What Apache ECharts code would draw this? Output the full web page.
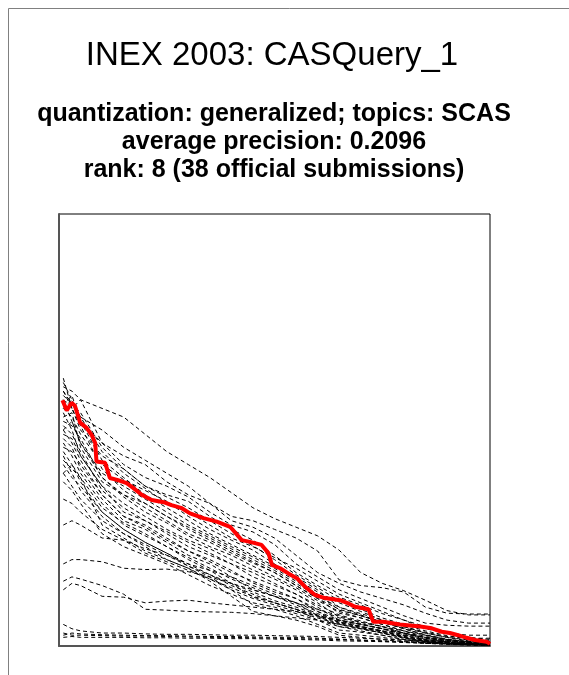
<!DOCTYPE html>
<html>
<head>
<meta charset="utf-8">
<title>INEX 2003: CASQuery_1</title>
<script src="https://cdn.jsdelivr.net/npm/echarts@6/dist/echarts.min.js"></script>
<style>
  html, body { margin: 0; padding: 0; background: #fff; }
  #chart { width: 569px; height: 675px; }
</style>
</head>
<body>
<div id="chart"></div>
<script>
// recall points shared by the other submissions
var recall = [0.01, 0.03, 0.05, 0.1, 0.15, 0.2, 0.25, 0.3, 0.35, 0.4, 0.45, 0.5, 0.55, 0.6, 0.65, 0.7, 0.75, 0.8, 0.85, 0.9, 0.95, 1.0];

// other official submissions (precision at each recall point)
var run01 = [0.60, 0.59, 0.57, 0.55, 0.53, 0.49, 0.45, 0.42, 0.39, 0.355, 0.32, 0.295, 0.275, 0.255, 0.222, 0.17, 0.145, 0.128, 0.106, 0.082, 0.072, 0.072];
var run02 = [0.58, 0.56, 0.53, 0.50, 0.46, 0.43, 0.40, 0.37, 0.33, 0.30, 0.29, 0.27, 0.25, 0.22, 0.153, 0.14, 0.135, 0.125, 0.09, 0.076, 0.074, 0.074];
var run03 = [0.62, 0.55, 0.57, 0.47, 0.44, 0.42, 0.38, 0.35, 0.33, 0.29, 0.275, 0.25, 0.21, 0.17, 0.145, 0.125, 0.11, 0.095, 0.076, 0.06, 0.053, 0.053];
var run04 = [0.56, 0.58, 0.52, 0.47, 0.42, 0.39, 0.37, 0.345, 0.31, 0.28, 0.264, 0.235, 0.19, 0.16, 0.13, 0.11, 0.09, 0.07, 0.053, 0.048, 0.046, 0.046];
var run05 = [0.59, 0.55, 0.50, 0.44, 0.41, 0.37, 0.35, 0.335, 0.30, 0.27, 0.245, 0.21, 0.17, 0.14, 0.113, 0.095, 0.075, 0.06, 0.04, 0.03, 0.025, 0.025];
var run06 = [0.55, 0.53, 0.49, 0.42, 0.385, 0.36, 0.335, 0.30, 0.27, 0.245, 0.222, 0.19, 0.16, 0.13, 0.09, 0.075, 0.06, 0.045, 0.032, 0.022, 0.018, 0.018];
var run07 = [0.57, 0.52, 0.47, 0.40, 0.37, 0.34, 0.31, 0.28, 0.255, 0.23, 0.206, 0.18, 0.15, 0.12, 0.083, 0.07, 0.055, 0.04, 0.025, 0.015, 0.01, 0.01];
var run08 = [0.53, 0.54, 0.46, 0.38, 0.35, 0.32, 0.29, 0.26, 0.24, 0.215, 0.192, 0.17, 0.14, 0.11, 0.076, 0.065, 0.05, 0.035, 0.018, 0.012, 0.008, 0.005];
var run09 = [0.54, 0.50, 0.44, 0.37, 0.33, 0.30, 0.27, 0.245, 0.225, 0.20, 0.176, 0.155, 0.13, 0.10, 0.067, 0.055, 0.045, 0.03, 0.015, 0.01, 0.006, 0.004];
var run10 = [0.51, 0.49, 0.45, 0.36, 0.32, 0.29, 0.26, 0.23, 0.21, 0.19, 0.16, 0.14, 0.12, 0.09, 0.06, 0.05, 0.04, 0.025, 0.012, 0.008, 0.005, 0.003];
var run11 = [0.50, 0.47, 0.43, 0.35, 0.30, 0.28, 0.25, 0.22, 0.20, 0.175, 0.146, 0.125, 0.11, 0.08, 0.053, 0.045, 0.035, 0.02, 0.01, 0.007, 0.004, 0.003];
var run12 = [0.48, 0.46, 0.41, 0.34, 0.29, 0.27, 0.24, 0.21, 0.19, 0.16, 0.13, 0.115, 0.10, 0.07, 0.045, 0.04, 0.03, 0.018, 0.01, 0.006, 0.004, 0.002];
var run13 = [0.47, 0.44, 0.40, 0.33, 0.28, 0.255, 0.23, 0.20, 0.175, 0.145, 0.113, 0.10, 0.085, 0.06, 0.037, 0.032, 0.025, 0.015, 0.008, 0.005, 0.003, 0.002];
var run14 = [0.45, 0.42, 0.38, 0.31, 0.27, 0.24, 0.215, 0.185, 0.16, 0.13, 0.095, 0.085, 0.07, 0.05, 0.03, 0.025, 0.02, 0.012, 0.007, 0.004, 0.003, 0.002];
var run15 = [0.44, 0.40, 0.36, 0.30, 0.26, 0.23, 0.20, 0.18, 0.15, 0.115, 0.08, 0.07, 0.06, 0.045, 0.025, 0.02, 0.015, 0.01, 0.006, 0.004, 0.002, 0.001];
var run16 = [0.40, 0.42, 0.39, 0.28, 0.25, 0.22, 0.20, 0.18, 0.155, 0.13, 0.11, 0.095, 0.08, 0.065, 0.05, 0.04, 0.03, 0.02, 0.01, 0.006, 0.004, 0.002];
var run17 = [0.38, 0.36, 0.33, 0.26, 0.23, 0.21, 0.19, 0.165, 0.14, 0.12, 0.10, 0.09, 0.075, 0.06, 0.045, 0.035, 0.025, 0.015, 0.01, 0.005, 0.003, 0.002];
var run18 = [0.28, 0.29, 0.28, 0.25, 0.245, 0.225, 0.21, 0.19, 0.175, 0.16, 0.14, 0.12, 0.10, 0.08, 0.06, 0.05, 0.04, 0.03, 0.02, 0.012, 0.008, 0.005];
var run19 = [0.19, 0.20, 0.20, 0.195, 0.18, 0.177, 0.178, 0.172, 0.16, 0.145, 0.13, 0.115, 0.10, 0.085, 0.07, 0.055, 0.045, 0.035, 0.025, 0.015, 0.01, 0.008];
var run20 = [0.13, 0.145, 0.14, 0.115, 0.113, 0.10, 0.104, 0.106, 0.10, 0.095, 0.09, 0.085, 0.08, 0.07, 0.06, 0.05, 0.04, 0.03, 0.02, 0.015, 0.01, 0.008];
var run21 = [0.15, 0.16, 0.155, 0.14, 0.12, 0.085, 0.083, 0.08, 0.079, 0.078, 0.075, 0.07, 0.065, 0.06, 0.05, 0.042, 0.035, 0.028, 0.02, 0.013, 0.008, 0.006];
var run22 = [0.05, 0.04, 0.035, 0.03, 0.03, 0.028, 0.027, 0.027, 0.026, 0.025, 0.025, 0.024, 0.023, 0.022, 0.02, 0.018, 0.016, 0.014, 0.012, 0.01, 0.008, 0.006];
var run23 = [0.025, 0.03, 0.028, 0.026, 0.025, 0.024, 0.024, 0.023, 0.022, 0.022, 0.021, 0.02, 0.02, 0.018, 0.016, 0.014, 0.012, 0.01, 0.008, 0.006, 0.005, 0.004];
var run24 = [0.02, 0.022, 0.02, 0.02, 0.02, 0.019, 0.019, 0.018, 0.018, 0.017, 0.017, 0.016, 0.015, 0.014, 0.012, 0.011, 0.01, 0.008, 0.006, 0.005, 0.004, 0.003];
var run25 = [0.03, 0.025, 0.025, 0.024, 0.023, 0.023, 0.022, 0.021, 0.02, 0.02, 0.019, 0.018, 0.017, 0.016, 0.015, 0.013, 0.011, 0.009, 0.007, 0.005, 0.004, 0.003];
var run26 = [0.61, 0.57, 0.52, 0.43, 0.39, 0.35, 0.32, 0.29, 0.26, 0.235, 0.21, 0.185, 0.155, 0.125, 0.10, 0.08, 0.06, 0.045, 0.03, 0.02, 0.012, 0.008];
var run27 = [0.57, 0.55, 0.51, 0.41, 0.36, 0.33, 0.30, 0.275, 0.25, 0.225, 0.20, 0.175, 0.145, 0.115, 0.09, 0.072, 0.055, 0.04, 0.026, 0.016, 0.01, 0.006];
var run28 = [0.52, 0.51, 0.48, 0.39, 0.345, 0.31, 0.285, 0.255, 0.23, 0.21, 0.185, 0.16, 0.135, 0.105, 0.08, 0.065, 0.05, 0.035, 0.022, 0.014, 0.008, 0.005];
var run29 = [0.49, 0.48, 0.44, 0.37, 0.31, 0.29, 0.265, 0.24, 0.215, 0.19, 0.17, 0.145, 0.12, 0.095, 0.072, 0.058, 0.045, 0.03, 0.018, 0.011, 0.007, 0.004];
var run30 = [0.46, 0.45, 0.42, 0.35, 0.30, 0.275, 0.245, 0.22, 0.195, 0.17, 0.15, 0.13, 0.11, 0.085, 0.065, 0.052, 0.04, 0.026, 0.015, 0.009, 0.005, 0.003];
var run31 = [0.43, 0.41, 0.39, 0.32, 0.285, 0.26, 0.23, 0.205, 0.18, 0.155, 0.135, 0.115, 0.095, 0.075, 0.058, 0.046, 0.035, 0.022, 0.013, 0.008, 0.005, 0.003];
var run32 = [0.42, 0.39, 0.37, 0.31, 0.27, 0.24, 0.215, 0.19, 0.165, 0.14, 0.12, 0.10, 0.085, 0.068, 0.052, 0.04, 0.03, 0.019, 0.011, 0.007, 0.004, 0.002];
var run33 = [0.59, 0.56, 0.54, 0.46, 0.41, 0.37, 0.345, 0.32, 0.29, 0.26, 0.232, 0.20, 0.165, 0.135, 0.105, 0.085, 0.065, 0.05, 0.035, 0.024, 0.016, 0.012];
var run34 = [0.55, 0.57, 0.53, 0.45, 0.40, 0.365, 0.33, 0.31, 0.28, 0.25, 0.23, 0.205, 0.18, 0.15, 0.12, 0.10, 0.08, 0.06, 0.045, 0.03, 0.02, 0.015];
var run35 = [0.50, 0.52, 0.47, 0.39, 0.35, 0.33, 0.30, 0.27, 0.245, 0.22, 0.195, 0.17, 0.14, 0.11, 0.085, 0.07, 0.055, 0.042, 0.03, 0.02, 0.014, 0.01];
var run36 = [0.40, 0.37, 0.34, 0.29, 0.26, 0.235, 0.21, 0.185, 0.165, 0.145, 0.125, 0.105, 0.09, 0.072, 0.056, 0.045, 0.034, 0.024, 0.015, 0.009, 0.005, 0.003];
var run37 = [0.34, 0.33, 0.31, 0.27, 0.245, 0.215, 0.195, 0.175, 0.155, 0.135, 0.115, 0.10, 0.085, 0.07, 0.055, 0.043, 0.032, 0.022, 0.013, 0.008, 0.004, 0.002];

var others = [run01, run02, run03, run04, run05, run06, run07, run08, run09, run10,
  run11, run12, run13, run14, run15, run16, run17, run18, run19, run20,
  run21, run22, run23, run24, run25, run26, run27, run28, run29, run30,
  run31, run32, run33, run34, run35, run36, run37];

// CASQuery_1 itself
var redRecall = [0.008, 0.018, 0.029, 0.037, 0.049, 0.064, 0.076, 0.084, 0.087, 0.107, 0.118, 0.137, 0.157, 0.172, 0.192, 0.215, 0.246, 0.261, 0.285, 0.304, 0.335, 0.366, 0.397, 0.424, 0.443, 0.470, 0.486, 0.494, 0.513, 0.532, 0.552, 0.571, 0.594, 0.617, 0.652, 0.668, 0.687, 0.718, 0.729, 0.752, 0.791, 0.838, 0.865, 0.888, 0.907, 0.926, 0.946, 0.965, 0.992, 1.0];
var redPrecision = [0.569, 0.545, 0.563, 0.556, 0.517, 0.505, 0.488, 0.470, 0.427, 0.424, 0.389, 0.384, 0.377, 0.366, 0.350, 0.338, 0.332, 0.326, 0.319, 0.307, 0.296, 0.288, 0.276, 0.245, 0.241, 0.234, 0.215, 0.188, 0.180, 0.168, 0.157, 0.137, 0.118, 0.111, 0.106, 0.100, 0.091, 0.085, 0.056, 0.056, 0.050, 0.045, 0.041, 0.033, 0.030, 0.025, 0.019, 0.014, 0.010, 0.005];

var titleText = "INEX 2003: CASQuery_1";
var subLines = [
  "quantization: generalized; topics: SCAS",
  "average precision: 0.2096",
  "rank: 8 (38 official submissions)"
];

function pairs(xs, ys) {
  var out = [];
  for (var i = 0; i < ys.length; i++) {
    out.push([xs[i], ys[i]]);
  }
  return out;
}

var series = [];
for (var k = 0; k < others.length; k++) {
  series.push({
    type: "line",
    data: pairs(recall, others[k]),
    showSymbol: false,
    silent: true,
    z: 2,
    lineStyle: { color: "#000", width: 1, type: [4, 3] }
  });
}
series.push({
  type: "line",
  data: pairs(redRecall, redPrecision),
  showSymbol: false,
  silent: true,
  z: 5,
  lineStyle: { color: "#ff0000", width: 4 }
});

var font = "'Liberation Sans', Arial, Helvetica, sans-serif";
var graphics = [
  {
    type: "rect",
    shape: { x: 8.5, y: 8.5, width: 620, height: 720 },
    style: { fill: "none", stroke: "#808080", lineWidth: 1 }
  },
  {
    type: "text",
    x: 272, y: 56,
    style: {
      text: titleText, fill: "#000", align: "center", verticalAlign: "middle",
      font: "normal 33px " + font
    }
  }
];
for (var j = 0; j < subLines.length; j++) {
  graphics.push({
    type: "text",
    x: 274, y: 114 + j * 28,
    style: {
      text: subLines[j], fill: "#000", align: "center", verticalAlign: "middle",
      font: "bold 25px " + font
    }
  });
}

var myChart = echarts.init(document.getElementById("chart"));
var option = {
  animation: false,
  backgroundColor: "#fff",
  grid: {
    left: 59,
    top: 214,
    width: 431,
    height: 432,
    show: true,
    borderColor: "#000",
    borderWidth: 1
  },
  xAxis: {
    type: "value",
    min: 0,
    max: 1,
    axisLabel: { show: false },
    axisTick: { show: false },
    splitLine: { show: false },
    axisLine: { show: true, lineStyle: { color: "#555", width: 2 } }
  },
  yAxis: {
    type: "value",
    min: 0,
    max: 1,
    axisLabel: { show: false },
    axisTick: { show: false },
    splitLine: { show: false },
    axisLine: { show: true, lineStyle: { color: "#555", width: 2 } }
  },
  graphic: graphics,
  series: series
};
myChart.setOption(option);
window.addEventListener("resize", function() {
  myChart.resize();
});
</script>
</body>
</html>
